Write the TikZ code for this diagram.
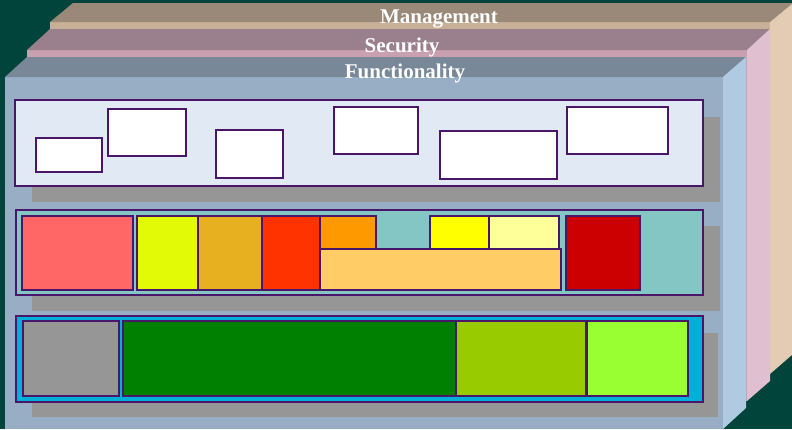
\documentclass[tikz,border=0pt]{standalone}
\usepackage{fontspec}
\setmainfont{Liberation Serif}
\usepackage{tikz}
\usetikzlibrary{calc}

\definecolor{bgteal}{RGB}{0,68,60}
\definecolor{edge}{RGB}{74,22,106}
\definecolor{shadowgray}{RGB}{150,150,150}
% slab faces
\definecolor{funcfront}{RGB}{152,174,196}
\definecolor{functop}{RGB}{120,136,152}
\definecolor{funcside}{RGB}{176,202,226}
\definecolor{secfront}{RGB}{200,160,176}
\definecolor{sectop}{RGB}{154,128,140}
\definecolor{secside}{RGB}{224,192,208}
\definecolor{mgmtfront}{RGB}{200,176,152}
\definecolor{mgmttop}{RGB}{154,136,120}
\definecolor{mgmtside}{RGB}{228,204,180}
% panels and blocks
\definecolor{panelblue}{RGB}{225,233,244}
\definecolor{panelteal}{RGB}{132,198,196}
\definecolor{panelcyan}{RGB}{0,176,216}
\definecolor{salmon}{RGB}{255,102,102}
\definecolor{lemon}{RGB}{226,250,6}
\definecolor{gold}{RGB}{230,176,32}
\definecolor{scarlet}{RGB}{255,51,0}
\definecolor{orange}{RGB}{255,153,0}
\definecolor{peach}{RGB}{255,204,102}
\definecolor{yellow}{RGB}{255,255,0}
\definecolor{paleyellow}{RGB}{255,255,153}
\definecolor{darkred}{RGB}{204,0,0}
\definecolor{midgray}{RGB}{150,150,150}
\definecolor{leafgreen}{RGB}{0,128,0}
\definecolor{olivelime}{RGB}{153,204,0}
\definecolor{brightlime}{RGB}{153,255,51}

\begin{document}
\begin{tikzpicture}[x=1pt,y=-1pt,
  layername/.style={text=white,font=\bfseries\fontsize{21}{21}\selectfont,anchor=base,inner sep=0pt},
  panel/.style={draw=edge,line width=1.6pt},
  blk/.style={draw=edge,line width=1.3pt},
  shadow/.style={fill=shadowgray}]
\useasboundingbox (0,0) rectangle (792,429);
\fill[bgteal] (0,0) rectangle (792,429);

% Management slab
\fill[mgmtfront] (50,22) rectangle (770,374);
\fill[mgmttop] (50,22) -- (73,3) -- (793,3) -- (770,22) -- cycle;
\fill[mgmtside] (770,22) -- (793,3) -- (793,354) -- (770,374) -- cycle;
% Security slab
\fill[secfront] (27,50) rectangle (747,401);
\fill[sectop] (27,50) -- (50,29) -- (770,29) -- (747,50) -- cycle;
\fill[secside] (747,50) -- (770,29) -- (770,381) -- (747,401) -- cycle;
% Functionality slab
\fill[funcfront] (5,77) rectangle (723,429);
\fill[functop] (5,77) -- (27,57) -- (746,57) -- (723,77) -- cycle;
\fill[funcside] (723,77) -- (746,57) -- (746,408) -- (723,429) -- cycle;

\node[layername] (mgmt) at (439,23) {Management};
\node[layername] (sec) at (402,52) {Security};
\node[layername] (func) at (405,78) {Functionality};

% top panel
\fill[shadow] (32,117) rectangle (720,202);
\draw[panel,fill=panelblue] (15,100) rectangle (703,186);
\draw[blk,fill=white] (36,138) rectangle (102,172);
\draw[blk,fill=white] (108,109) rectangle (186,156);
\draw[blk,fill=white] (216,130) rectangle (283,178);
\draw[blk,fill=white] (334,107) rectangle (418,154);
\draw[blk,fill=white] (440,131) rectangle (557,179);
\draw[blk,fill=white] (567,107) rectangle (668,154);

% middle panel
\fill[shadow] (32,226) rectangle (720,311);
\draw[panel,fill=panelteal] (16,210) rectangle (703,295);
\draw[blk,fill=salmon] (22,216) rectangle (133,290);
\draw[blk,fill=lemon] (137,216) rectangle (198,290);
\draw[blk,fill=gold] (198,216) rectangle (262,290);
\draw[blk,fill=scarlet] (262,216) rectangle (320,290);
\draw[blk,fill=orange] (320,216) rectangle (376,249);
\draw[blk,fill=peach] (320,249) rectangle (561,290);
\draw[blk,fill=yellow] (430,216) rectangle (489,249);
\draw[blk,fill=paleyellow] (489,216) rectangle (559,249);
\draw[blk,fill=darkred] (566,216) rectangle (640,290);

% bottom panel
\fill[shadow] (32,333) rectangle (718,417);
\draw[panel,fill=panelcyan] (16,316) rectangle (703,402);
\draw[blk,fill=midgray] (23,321) rectangle (119,396);
\draw[blk,fill=leafgreen] (123,321) rectangle (456,396);
\draw[blk,fill=olivelime] (456,321) rectangle (586,396);
\draw[blk,fill=brightlime] (587,321) rectangle (688,396);
\end{tikzpicture}
\end{document}
